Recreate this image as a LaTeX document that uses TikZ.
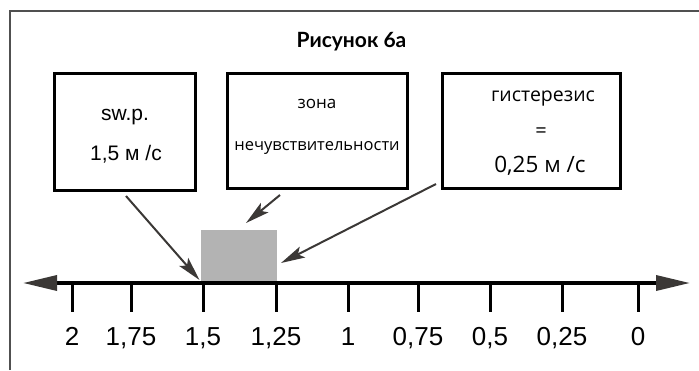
\documentclass[tikz,border=0pt]{standalone}
\usepackage{fontspec}
\setmainfont{Liberation Sans}
\newfontfamily\boxfont{Open Sans}
\newfontfamily\titlefont{Lato}
\usetikzlibrary{arrows.meta}
\definecolor{pointer}{HTML}{3B3836}
\definecolor{zonegray}{HTML}{B3B3B3}
\definecolor{framegray}{HTML}{505050}

\begin{document}
\begin{tikzpicture}[x=1pt,y=-1pt,
  box/.style={draw=black,line width=3pt,inner sep=0pt},
  txt/.style={anchor=base,inner sep=0pt},
  tick/.style={line width=3pt},
  callout/.style={pointer,line width=2pt,-{Stealth[length=24pt,width=12pt,inset=5pt]}},
  axisline/.style={line width=3.5pt,
    {Triangle[length=34pt,width=15pt,color=pointer]}-{Triangle[length=34pt,width=15pt,color=pointer]}}]
\useasboundingbox (0,0) rectangle (699,370);

% frame
\draw[framegray,line width=1.5pt] (10,370) -- (10,11) -- (699,11);

% title
\node[txt] (title) at (351.5,47) {\titlefont\bfseries\fontsize{21pt}{24pt}\selectfont Рисунок 6а};

% boxes
\node[box,minimum width=141,minimum height=117] (b1) at (124.5,131.5) {};
\node[box,minimum width=180,minimum height=115] (b2) at (317,130.5) {};
\node[box,minimum width=178,minimum height=115] (b3) at (531,130.5) {};

\node[txt] (b1a) at (125,120) {\fontsize{21pt}{24pt}\selectfont sw.p.};
\node[txt] (b1b) at (126,160) {\fontsize{21pt}{24pt}\selectfont 1,5 м /с};

\node[txt] (b2a) at (317,108) {\boxfont\fontsize{17pt}{20pt}\selectfont зона};
\node[txt] (b2b) at (317,150.5) {\boxfont\fontsize{16.5pt}{20pt}\selectfont нечувствительности};

\node[txt] (b3a) at (543,101) {\boxfont\fontsize{19.5pt}{22pt}\selectfont гистерезис};
\node[txt] (b3b) at (541,137) {\boxfont\fontsize{20pt}{22pt}\selectfont =};
\node[txt] (b3c) at (540,172) {\boxfont\fontsize{22.5pt}{26pt}\selectfont 0,25 м /с};

% dead zone
\node[fill=zonegray,inner sep=0pt,minimum width=76,minimum height=53,anchor=south west] (zone) at (201,283) {};

% axis
\coordinate (axL) at (23,283);
\coordinate (axR) at (690,283);
\draw[axisline] (axL) -- (axR);

\foreach \x/\t [count=\i] in {72/2,131/{1,75},203/{1,5},276/{1,25},348/1,418/{0,75},490/{0,5},562/{0,25},638/0}{
  \coordinate (t\i) at (\x,283);
  \coordinate (u\i) at (\x,312);
  \draw[tick] (t\i) -- (u\i);
  \node[txt] (n\i) at (\x,345) {\fontsize{26pt}{30pt}\selectfont \t};
}

% callout arrows
\coordinate (s1) at (126,196);
\coordinate (e1) at (199.5,280);
\coordinate (s2) at (280,195);
\coordinate (e2) at (246,223);
\coordinate (s3) at (436,184);
\coordinate (e3) at (281,263);
\draw[callout] (s1) -- (e1);
\draw[callout] (s2) -- (e2);
\draw[callout] (s3) -- (e3);
\end{tikzpicture}
\end{document}
